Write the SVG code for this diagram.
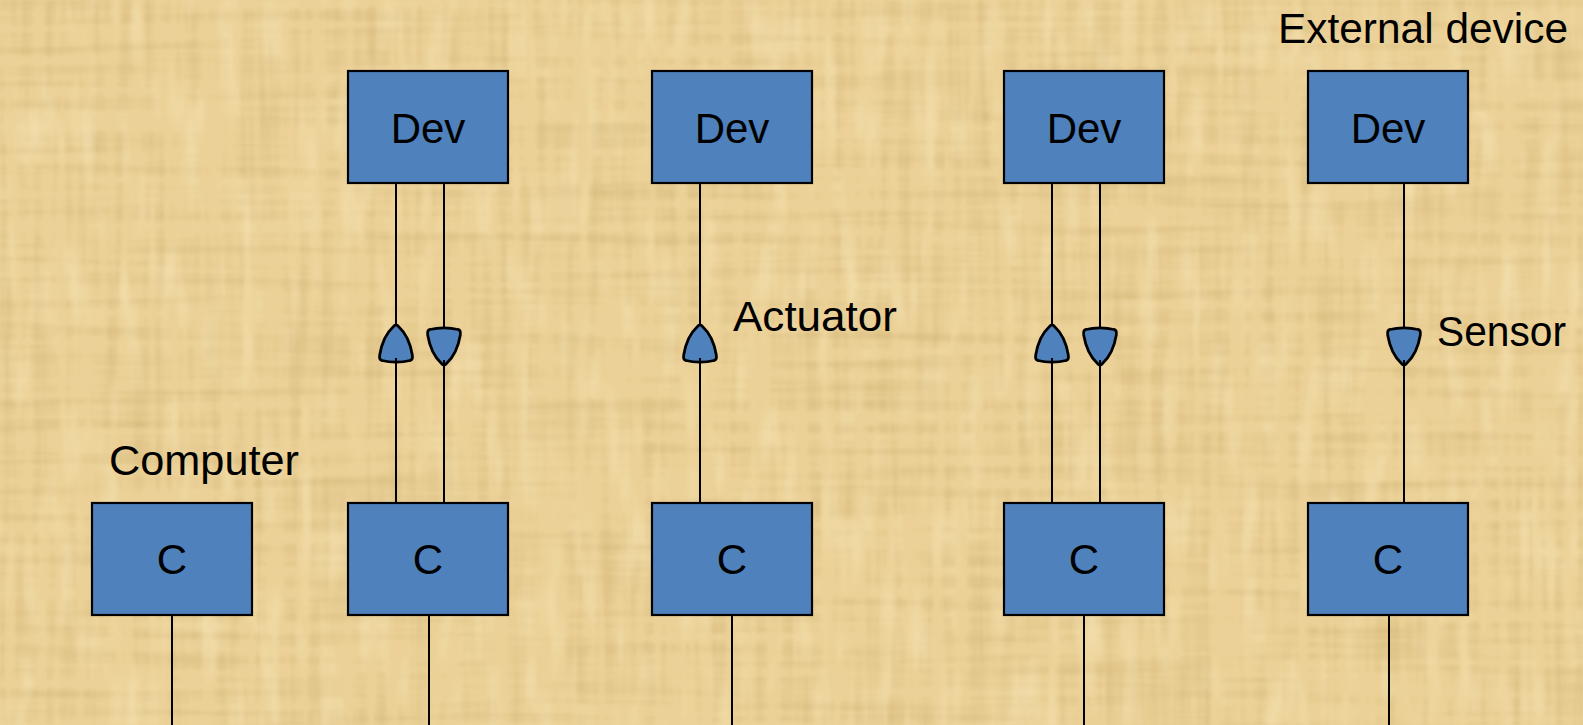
<svg xmlns="http://www.w3.org/2000/svg" width="1583" height="725" viewBox="0 0 1583 725">
<style>
.box{fill:#4F81BD;stroke:#000;stroke-width:2.2}
.lbl{font-family:"Liberation Sans",Arial,sans-serif;font-size:42px;fill:#000}
.mid{text-anchor:middle}
.con{fill:none;stroke:#000;stroke-width:2}
.ah{fill:#4F81BD;stroke:#000;stroke-width:2.8;stroke-linejoin:round}
</style>
<defs>
<filter id="pap" x="0" y="0" width="100%" height="100%" color-interpolation-filters="sRGB">
<feTurbulence type="fractalNoise" baseFrequency="0.09 0.004" numOctaves="3" seed="3" result="v"/>
<feTurbulence type="fractalNoise" baseFrequency="0.004 0.09" numOctaves="3" seed="11" result="h"/>
<feComposite in="v" in2="h" operator="arithmetic" k2="0.5" k3="0.5" result="n"/>
<feColorMatrix in="n" type="matrix" values="0 0 0 0 0.66  0 0 0 0 0.52  0 0 0 0 0.26  2.6 0 0 0 -1.2"/>
<feGaussianBlur stdDeviation="1"/>
</filter>
<filter id="pap2" x="0" y="0" width="100%" height="100%" color-interpolation-filters="sRGB">
<feTurbulence type="fractalNoise" baseFrequency="0.05 0.012" numOctaves="2" seed="5" result="n"/>
<feColorMatrix in="n" type="matrix" values="0 0 0 0 1  0 0 0 0 0.95  0 0 0 0 0.8  -2.6 0 0 0 1.35"/>
<feGaussianBlur stdDeviation="1"/>
</filter>
<marker id="arr" markerUnits="userSpaceOnUse" markerWidth="44" markerHeight="44" viewBox="-22 -22 44 44" refX="0" refY="0" orient="auto" overflow="visible">
<path class="ah" d="M17.5,-2.5 Q20.5,0 17.5,2.5 C12.5,8 3,14 -11,16.3 Q-16,17 -16.5,14 C-18.5,6 -18.5,-6 -16.5,-14 Q-16,-17 -11,-16.3 C3,-14 12.5,-8 17.5,-2.5 Z"/>
</marker>
</defs>
<g id="background">
<rect width="1583" height="725" fill="#EBD197"/>
<rect width="1583" height="725" filter="url(#pap)" opacity="0.28"/>
<rect width="1583" height="725" filter="url(#pap2)" opacity="0.32"/>
</g>
<g id="connectors">
<path class="con" d="M396,503 L396,344 L396,183" marker-mid="url(#arr)"/>
<path class="con" d="M444,183 L444,346 L444,503" marker-mid="url(#arr)"/>
<path class="con" d="M700,503 L700,344 L700,183" marker-mid="url(#arr)"/>
<path class="con" d="M1052,503 L1052,344 L1052,183" marker-mid="url(#arr)"/>
<path class="con" d="M1100,183 L1100,346 L1100,503" marker-mid="url(#arr)"/>
<path class="con" d="M1404,183 L1404,346 L1404,503" marker-mid="url(#arr)"/>
<path class="con" d="M396,362 V358 M700,362 V358 M1052,362 V358 M444,365 V360 M1100,365 V360 M1404,365 V360"/>
<path class="con" d="M172,615 V725"/>
<path class="con" d="M429,615 V725"/>
<path class="con" d="M732,615 V725"/>
<path class="con" d="M1084,615 V725"/>
<path class="con" d="M1389,615 V725"/>
</g>
<g id="dev1"><rect class="box" x="348" y="71" width="160" height="112"/><text class="lbl mid" x="428" y="143">Dev</text></g>
<g id="dev2"><rect class="box" x="652" y="71" width="160" height="112"/><text class="lbl mid" x="732" y="143">Dev</text></g>
<g id="dev3"><rect class="box" x="1004" y="71" width="160" height="112"/><text class="lbl mid" x="1084" y="143">Dev</text></g>
<g id="dev4"><rect class="box" x="1308" y="71" width="160" height="112"/><text class="lbl mid" x="1388" y="143">Dev</text></g>
<g id="c0"><rect class="box" x="92" y="503" width="160" height="112"/><text class="lbl mid" x="172" y="574">C</text></g>
<g id="c1"><rect class="box" x="348" y="503" width="160" height="112"/><text class="lbl mid" x="428" y="574">C</text></g>
<g id="c2"><rect class="box" x="652" y="503" width="160" height="112"/><text class="lbl mid" x="732" y="574">C</text></g>
<g id="c3"><rect class="box" x="1004" y="503" width="160" height="112"/><text class="lbl mid" x="1084" y="574">C</text></g>
<g id="c4"><rect class="box" x="1308" y="503" width="160" height="112"/><text class="lbl mid" x="1388" y="574">C</text></g>
<g id="labels">
<text class="lbl" x="109" y="475" textLength="190" lengthAdjust="spacingAndGlyphs">Computer</text>
<text class="lbl" x="1278" y="43" textLength="290" lengthAdjust="spacingAndGlyphs">External device</text>
<text class="lbl" x="733" y="331" textLength="164" lengthAdjust="spacingAndGlyphs">Actuator</text>
<text class="lbl" x="1437" y="346" textLength="129" lengthAdjust="spacingAndGlyphs">Sensor</text>
</g>
</svg>
